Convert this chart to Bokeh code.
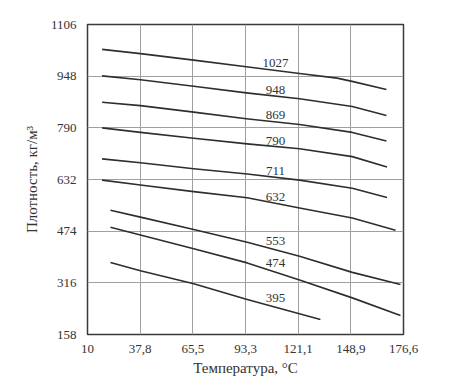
from bokeh.plotting import figure
from bokeh.models import FixedTicker, Range1d, ColumnDataSource
from bokeh.core.properties import value
from bokeh.embed import file_html
from bokeh.resources import INLINE

# Temperature ticks (°C) and density ticks (kg/m3)
x_ticks = [10, 37.8, 65.5, 93.3, 121.1, 148.9, 176.6]
x_tick_labels = ["10", "37,8", "65,5", "93,3", "121,1", "148,9", "176,6"]
y_ticks = [158, 316, 474, 632, 790, 948, 1106]

# Curves: temperature (°C) and density (kg/m3)
t_1027 = [17.7, 37.9, 66.0, 93.7, 121.8, 141.6, 149.5, 167.6]
d_1027 = [1030, 1017, 997, 977, 956, 942, 932, 907]
t_948 = [17.7, 37.9, 66.0, 93.7, 121.8, 149.6, 167.6]
d_948 = [949, 937, 917, 897, 879, 855, 828]
t_869 = [17.7, 37.9, 66.0, 93.7, 121.8, 149.6, 167.6]
d_869 = [868, 858, 838, 818, 800, 776, 750]
t_790 = [17.7, 37.9, 66.0, 94.2, 121.8, 149.6, 167.9]
d_790 = [790, 776, 758, 741, 726, 702, 670]
t_711 = [17.7, 37.9, 66.0, 94.2, 121.8, 149.6, 167.9]
d_711 = [695, 683, 665, 649, 630, 605, 577]
t_632 = [17.7, 37.9, 66.0, 94.2, 121.8, 149.6, 172.4]
d_632 = [630, 615, 595, 576, 545, 514, 477]
t_553 = [22.1, 37.9, 66.0, 94.2, 121.8, 149.6, 175.0]
d_553 = [538, 517, 479, 440, 397, 348, 311]
t_474 = [22.1, 37.9, 66.0, 94.2, 121.8, 149.6, 175.0]
d_474 = [486, 462, 420, 377, 325, 270, 216]
t_395 = [22.1, 37.9, 66.0, 94.2, 132.8]
d_395 = [378, 353, 313, 265, 204]

curves = [(t_1027, d_1027), (t_948, d_948), (t_869, d_869), (t_790, d_790),
          (t_711, d_711), (t_632, d_632), (t_553, d_553), (t_474, d_474),
          (t_395, d_395)]

# Curve labels
label_text = ["1027", "948", "869", "790", "711", "632", "553", "474", "395"]
label_x = [109.1] * 9
label_y = [987, 907, 828, 749, 657, 577, 444, 378, 270]

FONT = "Liberation Serif"

p = figure(width=448, height=378, output_backend="svg", toolbar_location=None,
           x_range=Range1d(10, 176.6), y_range=Range1d(158, 1106),
           min_border_left=87, min_border_right=45, min_border_top=24,
           min_border_bottom=40)

p.background_fill_color = "white"
p.border_fill_color = "white"
p.outline_line_color = "#3a3a3a"
p.outline_line_width = 1.5

for t, d in curves:
    p.line(t, d, line_color="#2e2e2e", line_width=1.6, line_join="round")

src = ColumnDataSource(dict(x=label_x, y=label_y, t=label_text))
p.text(x="x", y="y", text="t", source=src, text_font=value(FONT),
       text_font_size="13px", text_align="center", text_baseline="middle",
       text_color="#333333")

p.xaxis.ticker = FixedTicker(ticks=x_ticks)
p.yaxis.ticker = FixedTicker(ticks=y_ticks)
p.xaxis.major_label_overrides = {k: v for k, v in zip(x_ticks, x_tick_labels)}

for ax in (p.xaxis[0], p.yaxis[0]):
    ax.axis_line_color = None
    ax.major_tick_line_color = None
    ax.minor_tick_line_color = None
    ax.major_label_text_font = FONT
    ax.major_label_text_font_size = "13px"
    ax.major_label_text_color = "#333333"
    ax.axis_label_text_font = FONT
    ax.axis_label_text_font_size = "15px"
    ax.axis_label_text_font_style = "normal"
    ax.axis_label_text_color = "#333333"

p.xaxis.axis_label = "Температура, °C"
p.yaxis.axis_label = "Плотность, кг/м³"
p.xaxis.major_label_standoff = 4
p.yaxis.major_label_standoff = 5
p.xaxis.axis_label_standoff = 4
p.yaxis.axis_label_standoff = 8

p.xgrid.grid_line_color = "#a0a0a0"
p.ygrid.grid_line_color = "#a0a0a0"
p.xgrid.grid_line_width = 1
p.ygrid.grid_line_width = 1

open("out.html", "w").write(file_html(p, INLINE))
